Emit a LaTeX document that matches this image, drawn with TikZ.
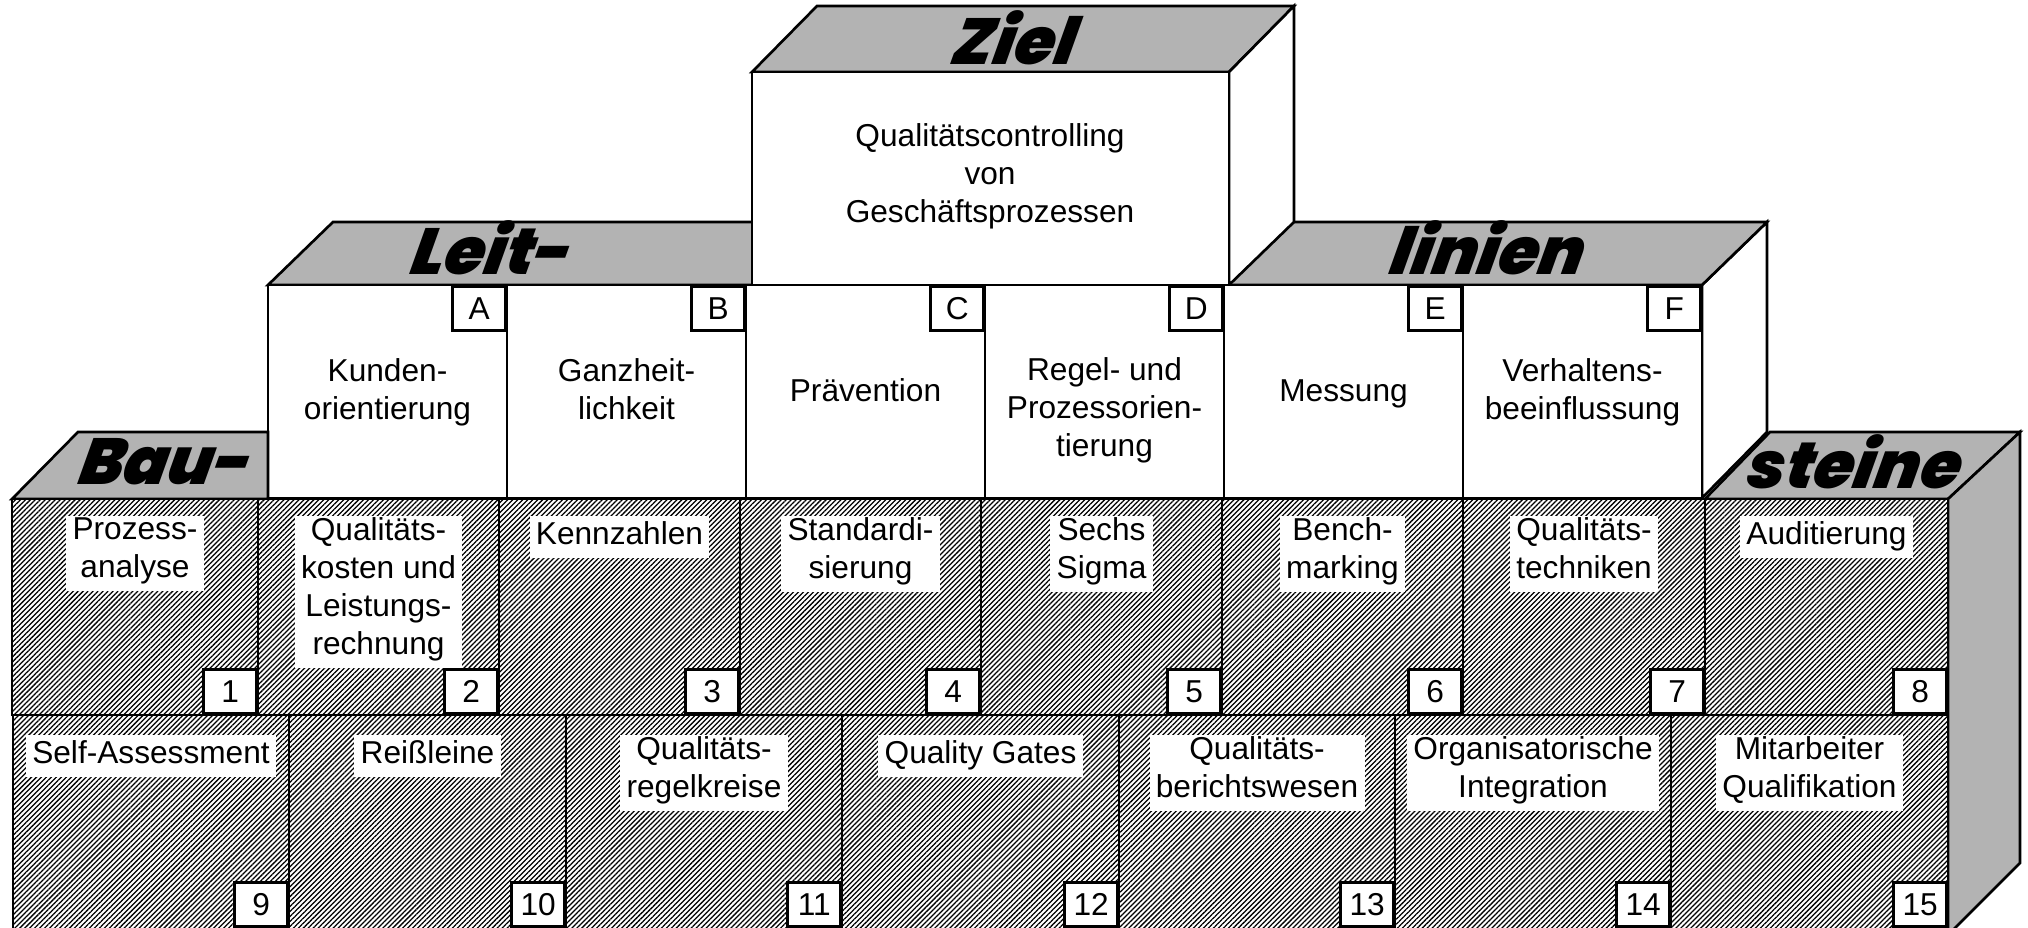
\documentclass[tikz,border=0pt]{standalone}
\usepackage{fontspec}
\setmainfont{Liberation Sans}
\newfontfamily\heavyfont{Poppins Black Italic}[FakeSlant=0.18]
\usetikzlibrary{patterns.meta}
\definecolor{facegray}{RGB}{179,179,179}
\begin{document}
\begin{tikzpicture}[x=0.01cm,y=-0.01cm,
  boxline/.style={draw=black,line width=0.75pt,line join=miter},
  grayface/.style={boxline,fill=facegray},
  whiteface/.style={boxline,fill=white},
  hatchface/.style={boxline,preaction={fill=white},pattern={Lines[angle=45,distance=1.0pt,line width=0.36pt]}},
  txt/.style={font=\fontsize{9}{10.8}\selectfont,align=center,inner sep=0pt,
    execute at begin node=\strut,execute at end node=\strut},
  lbl/.style={txt,fill=white,inner xsep=1.8pt,inner ysep=0.6pt,anchor=north},
  tagbox/.style={boxline,fill=white,font=\fontsize{9}{10.8}\selectfont,
    minimum width=0.53cm,minimum height=0.44cm,inner sep=0pt},
  heading/.style={font=\heavyfont\fontsize{18.5}{18.5}\selectfont,inner sep=0pt}]
\useasboundingbox (0,0) rectangle (2028,928);
% right side face of the Leitlinien row
\draw[whiteface] (1702,285) -- (1767,222) -- (1767,432) -- (1702,498) -- cycle;
% top faces of the Leitlinien row
\draw[grayface] (268,285) -- (333,222) -- (757,222) -- (757,285) -- cycle;
\draw[grayface] (1224,285) -- (1289,222) -- (1767,222) -- (1702,285) -- cycle;
\node[heading] (hLeit) at (489,248) {Leit-};
\node[heading] (hLinien) at (1485,248) {linien};
% Ziel block
\draw[grayface] (752,72) -- (817,6) -- (1294,6) -- (1229,72) -- cycle;
\draw[whiteface] (1229,72) -- (1294,6) -- (1294,222) -- (1229,285) -- cycle;
\draw[whiteface] (752,72) rectangle (1229,285);
\node[heading] (hZiel) at (1012,38) {Ziel};
\node[txt] (ziel) at (990,179) {Qualitätscontrolling\\von\\Geschäftsprozessen};
% Leitlinien cells
\foreach \a/\b/\L/\t/\yy in {
  268/507/A/{Kunden-\\orientierung}/395,
  507/746/B/{Ganzheit-\\lichkeit}/395,
  746/985/C/{Prävention}/394,
  985/1224/D/{Regel- und\\Prozessorien-\\tierung}/413,
  1224/1463/E/{Messung}/394,
  1463/1702/F/{Verhaltens-\\beeinflussung}/395}{
  \draw[whiteface] (\a,285) rectangle (\b,498);
  \node[txt] (p\L) at ({(\a+\b)/2},\yy) {\t};
  \node[tagbox,anchor=north east] (t\L) at (\b,285) {\L};
}
% Bausteine top and side faces
\draw[grayface] (12,499) -- (78,432) -- (268,432) -- (268,499) -- cycle;
\draw[grayface] (1705,499) -- (1770,432) -- (2020,432) -- (1948,499) -- cycle;
\draw[grayface] (1948,499) -- (2020,432) -- (2020,863) -- (1948,935) -- cycle;
\node[heading] (hBau) at (163,462) {Bau-};
\node[heading] (hSteine) at (1852,462) {steine};
% row of building blocks 1-8
\foreach \a/\b/\n/\t in {
  12/258/1/{Prozess-\\analyse},
  258/499/2/{Qualitäts-\\kosten und\\Leistungs-\\rechnung},
  499/740/3/{Kennzahlen},
  740/981/4/{Standardi-\\sierung},
  981/1222/5/{Sechs\\Sigma},
  1222/1463/6/{Bench-\\marking},
  1463/1705/7/{Qualitäts-\\techniken},
  1705/1948/8/{Auditierung}}{
  \draw[hatchface] (\a,499) rectangle (\b,715);
  \node[lbl] (b\n) at ({(\a+\b)/2},515) {\t};
  \node[tagbox,anchor=south east] (n\n) at (\b,715) {\n};
}
% row of building blocks 9-15
\foreach \a/\b/\n/\t in {
  13/289/9/{Self-Assessment},
  289/566/10/{Reißleine},
  566/842/11/{Qualitäts-\\regelkreise},
  842/1119/12/{Quality Gates},
  1119/1395/13/{Qualitäts-\\berichtswesen},
  1395/1671/14/{Organisatorische\\Integration},
  1671/1948/15/{Mitarbeiter\\Qualifikation}}{
  \draw[hatchface] (\a,715) rectangle (\b,935);
  \node[lbl] (b\n) at ({(\a+\b)/2},734) {\t};
  \node[tagbox,anchor=south east] (n\n) at (\b,928) {\n};
}
\end{tikzpicture}
\end{document}
